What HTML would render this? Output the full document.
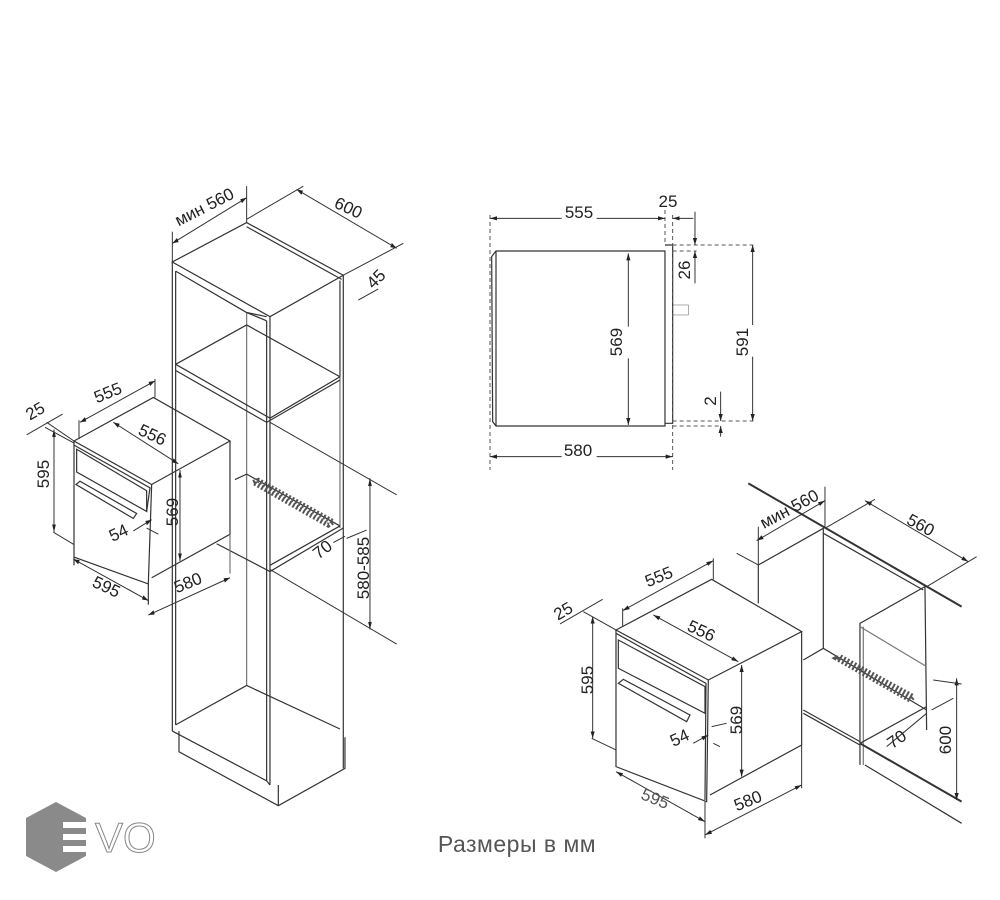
<!DOCTYPE html>
<html><head><meta charset="utf-8"><style>
html,body{margin:0;padding:0;background:#fff;}
svg{display:block;}
text{font-family:"Liberation Sans","DejaVu Sans",sans-serif;fill:#222;}
.l line,.l polyline,.l polygon,.l path{vector-effect:non-scaling-stroke;}
</style></head><body>
<svg width="1000" height="900" viewBox="0 0 1000 900" xmlns="http://www.w3.org/2000/svg">
<defs>
<marker id="a" viewBox="0 0 10 10" refX="10" refY="5" markerWidth="7" markerHeight="7" orient="auto-start-reverse"><path d="M0,2 L10,5 L0,8z" fill="#222"/></marker>
</defs>

<g class="l" transform="translate(0,173.7) scale(0.3333,0.4144)" stroke="#333" stroke-width="1.2" fill="none">
  <polygon points="517,213 740,118 1030,245 810,345"/>
  <line x1="740" y1="128" x2="1025" y2="255"/>
  <line x1="517" y1="213" x2="517" y2="1345"/>
  <line x1="527" y1="235" x2="527" y2="1330"/>
  <line x1="810" y1="345" x2="810" y2="1475"/>
  <line x1="800" y1="355" x2="800" y2="1465"/>
  <line x1="1030" y1="245" x2="1030" y2="1435"/>
  <line x1="1020" y1="258" x2="1020" y2="490"/>
  <line x1="1020" y1="490" x2="1020" y2="855" stroke="#777"/>
  <line x1="740" y1="335" x2="740" y2="1235" stroke="#777"/>
  <polyline points="527,235 740,335 800,355"/>
  <line x1="740" y1="335" x2="800" y2="345"/>
  <polyline points="527,460 810,590 1020,490"/>
  <polyline points="527,475 800,600 1020,498"/>
  <line x1="740" y1="365" x2="527" y2="460"/>
  <line x1="740" y1="365" x2="1020" y2="490"/>
  <polyline points="650,893 810,960 1030,855"/>
  <polyline points="810,945 1020,850"/>
  <line x1="705" y1="738" x2="740" y2="725"/>
  <line x1="740" y1="725" x2="1020" y2="850"/>
  <polygon points="760,745 775,740 1000,840 985,848" stroke="#555" stroke-dasharray="2,2" stroke-width="5"/>
  <polyline points="527,1330 740,1235 1020,1340"/>
  <polyline points="517,1345 800,1465 810,1475"/>
  <polyline points="537,1345 537,1395 835,1525 1035,1435 1035,1360"/>
  <line x1="835" y1="1475" x2="835" y2="1525"/>
  <polygon points="222,645 460,540 690,645 455,750"/>
  <polyline points="222,645 222,925 445,990 455,750"/>
  <polyline points="690,645 690,870 455,975"/>
  <polyline points="222,655 450,758 440,815"/>
  <polygon points="230,665 440,765 440,815 230,720"/>
  <polygon points="228,750 240,742 410,820 400,832"/>
  <line x1="690" y1="870" x2="690" y2="965" stroke="#777"/>
  <line x1="445" y1="990" x2="445" y2="1040"/>
  <line x1="222" y1="925" x2="222" y2="945"/>
  <line x1="517" y1="213" x2="517" y2="140" stroke-width="1"/>
  <line x1="740" y1="118" x2="740" y2="30" stroke-width="1"/>
  <line x1="517" y1="168" x2="740" y2="58" stroke-width="1" marker-start="url(#a)" marker-end="url(#a)"/>
  <line x1="740" y1="110" x2="910" y2="30" stroke-width="1"/>
  <line x1="1030" y1="245" x2="1210" y2="168" stroke-width="1"/>
  <line x1="890" y1="38" x2="1190" y2="180" stroke-width="1" marker-start="url(#a)" marker-end="url(#a)"/>
  <line x1="1075" y1="305" x2="1135" y2="278" stroke-width="1"/>
  <line x1="80" y1="630" x2="188" y2="580" stroke-width="1"/>
  <line x1="140" y1="600" x2="222" y2="645" stroke-width="1"/>
  <line x1="237" y1="640" x2="237" y2="595" stroke-width="1"/>
  <line x1="465" y1="540" x2="465" y2="495" stroke-width="1"/>
  <line x1="240" y1="600" x2="465" y2="500" stroke-width="1" marker-start="url(#a)" marker-end="url(#a)"/>
  <line x1="340" y1="600" x2="535" y2="700" stroke-width="1" marker-start="url(#a)" marker-end="url(#a)"/>
  <line x1="162" y1="617" x2="162" y2="865" stroke-width="1" marker-start="url(#a)" marker-end="url(#a)"/>
  <line x1="135" y1="612" x2="222" y2="650" stroke-width="1"/>
  <line x1="160" y1="865" x2="222" y2="895" stroke-width="1"/>
  <line x1="540" y1="715" x2="540" y2="935" stroke-width="1" marker-start="url(#a)" marker-end="url(#a)"/>
  <line x1="220" y1="930" x2="445" y2="1030" stroke-width="1" marker-start="url(#a)" marker-end="url(#a)"/>
  <line x1="445" y1="1065" x2="690" y2="975" stroke-width="1" marker-start="url(#a)" marker-end="url(#a)"/>
  <line x1="400" y1="862" x2="455" y2="835" stroke-width="1" marker-end="url(#a)"/>
  <line x1="475" y1="870" x2="440" y2="855" stroke-width="1"/>
  <line x1="810" y1="600" x2="1190" y2="775" stroke-width="1"/>
  <line x1="810" y1="955" x2="1190" y2="1135" stroke-width="1"/>
  <line x1="1110" y1="735" x2="1110" y2="1100" stroke-width="1" marker-start="url(#a)" marker-end="url(#a)"/>
  <line x1="1000" y1="890" x2="1035" y2="875" stroke-width="1"/>
  <line x1="1040" y1="880" x2="1100" y2="860" stroke-width="1"/>
</g>

<g class="l" transform="translate(480,190) scale(0.3333)" stroke="#333" stroke-width="1.2" fill="none">
  <path d="M48,183 L555,183 L555,708 L48,708 L38,695 L35,200 Z"/>
  <line x1="48" y1="183" x2="48" y2="708"/>
  <polyline points="555,165 578,165 578,700 555,700"/>
  <rect x="578" y="345" width="47" height="30"/>
  <g stroke-dasharray="4,3" stroke="#555" stroke-width="1">
    <line x1="578" y1="165" x2="820" y2="165"/>
    <line x1="578" y1="183" x2="650" y2="183"/>
    <line x1="578" y1="693" x2="820" y2="693"/>
    <line x1="578" y1="708" x2="725" y2="708"/>
    <line x1="30" y1="75" x2="30" y2="840"/>
    <line x1="578" y1="75" x2="578" y2="840"/>
    <line x1="555" y1="60" x2="555" y2="165"/>
  </g>
  <line x1="30" y1="85" x2="245" y2="85" marker-start="url(#a)" stroke-width="1"/>
  <line x1="350" y1="85" x2="555" y2="85" marker-end="url(#a)" stroke-width="1"/>
  <line x1="578" y1="85" x2="640" y2="85" marker-start="url(#a)" stroke-width="1"/>
  <line x1="645" y1="65" x2="645" y2="165" marker-end="url(#a)" stroke-width="1"/>
  <line x1="645" y1="280" x2="645" y2="183" marker-end="url(#a)" stroke-width="1"/>
  <line x1="445" y1="410" x2="445" y2="190" marker-end="url(#a)" stroke-width="1"/>
  <line x1="445" y1="505" x2="445" y2="705" marker-end="url(#a)" stroke-width="1"/>
  <line x1="818" y1="405" x2="818" y2="165" marker-end="url(#a)" stroke-width="1"/>
  <line x1="818" y1="500" x2="818" y2="693" marker-end="url(#a)" stroke-width="1"/>
  <line x1="722" y1="605" x2="722" y2="693" marker-end="url(#a)" stroke-width="1"/>
  <line x1="722" y1="740" x2="722" y2="708" marker-end="url(#a)" stroke-width="1"/>
  <line x1="30" y1="800" x2="245" y2="800" marker-start="url(#a)" stroke-width="1"/>
  <line x1="350" y1="800" x2="578" y2="800" marker-end="url(#a)" stroke-width="1"/>
</g>

<g class="l" transform="translate(540,480) scale(0.3333)" stroke="#333" stroke-width="1.2" fill="none">
  <line x1="625" y1="10" x2="1265" y2="380" stroke-width="2"/>
  <line x1="850" y1="160" x2="1150" y2="330"/>
  <polyline points="655,370 655,255 850,145 850,505"/>
  <polyline points="960,855 960,430 1155,320 1160,750"/>
  <line x1="970" y1="440" x2="970" y2="855" stroke="#777"/>
  <line x1="960" y1="440" x2="1160" y2="560" stroke="#777"/>
  <polyline points="790,540 850,505 1160,690"/>
  <line x1="790" y1="700" x2="960" y2="795"/>
  <line x1="790" y1="690" x2="960" y2="785"/>
  <line x1="960" y1="790" x2="1160" y2="680"/>
  <line x1="960" y1="790" x2="1265" y2="965" stroke-width="2"/>
  <line x1="975" y1="855" x2="1265" y2="1030"/>
  <line x1="590" y1="220" x2="655" y2="255" stroke-width="1"/>
  <polygon points="890,535 900,530 1120,650 1110,660" stroke="#555" stroke-dasharray="2,2" stroke-width="5"/>
  <polygon points="228,450 515,298 785,455 505,600"/>
  <polyline points="228,450 228,860 500,965 505,600"/>
  <polyline points="785,455 785,795 510,945"/>
  <polyline points="228,460 498,610 495,960"/>
  <polygon points="235,480 495,620 495,700 235,565"/>
  <polygon points="235,610 250,598 450,705 440,725"/>
  <line x1="655" y1="140" x2="655" y2="255" stroke-width="1"/>
  <line x1="855" y1="20" x2="855" y2="145" stroke-width="1"/>
  <line x1="650" y1="182" x2="855" y2="62" stroke-width="1" marker-start="url(#a)" marker-end="url(#a)"/>
  <line x1="855" y1="145" x2="1005" y2="58" stroke-width="1"/>
  <line x1="1160" y1="320" x2="1310" y2="230" stroke-width="1"/>
  <line x1="975" y1="62" x2="1285" y2="245" stroke-width="1" marker-start="url(#a)" marker-end="url(#a)"/>
  <line x1="248" y1="440" x2="248" y2="385" stroke-width="1"/>
  <line x1="520" y1="298" x2="520" y2="235" stroke-width="1"/>
  <line x1="248" y1="392" x2="520" y2="242" stroke-width="1" marker-start="url(#a)" marker-end="url(#a)"/>
  <line x1="60" y1="432" x2="188" y2="358" stroke-width="1"/>
  <line x1="130" y1="395" x2="228" y2="450" stroke-width="1"/>
  <line x1="340" y1="405" x2="595" y2="545" stroke-width="1" marker-start="url(#a)" marker-end="url(#a)"/>
  <line x1="158" y1="410" x2="158" y2="775" stroke-width="1" marker-start="url(#a)" marker-end="url(#a)"/>
  <line x1="155" y1="775" x2="228" y2="810" stroke-width="1"/>
  <line x1="605" y1="555" x2="605" y2="890" stroke-width="1" marker-start="url(#a)" marker-end="url(#a)"/>
  <line x1="228" y1="875" x2="495" y2="1025" stroke-width="1" marker-start="url(#a)" marker-end="url(#a)"/>
  <line x1="495" y1="965" x2="495" y2="1075" stroke-width="1"/>
  <line x1="785" y1="795" x2="785" y2="925" stroke-width="1"/>
  <line x1="495" y1="1065" x2="785" y2="915" stroke-width="1" marker-start="url(#a)" marker-end="url(#a)"/>
  <line x1="460" y1="790" x2="505" y2="765" stroke-width="1" marker-end="url(#a)"/>
  <line x1="560" y1="730" x2="515" y2="740" stroke-width="1"/>
  <line x1="520" y1="790" x2="540" y2="800" stroke-width="1"/>
  <line x1="1250" y1="595" x2="1250" y2="960" stroke-width="1" marker-start="url(#a)" marker-end="url(#a)"/>
  <line x1="1180" y1="600" x2="1265" y2="612" stroke-width="1"/>
  <line x1="1040" y1="800" x2="1160" y2="700" stroke-width="1"/>
  <line x1="1175" y1="690" x2="1240" y2="655" stroke-width="1"/>
</g>

<g font-size="17">
  <text transform="translate(207,212) rotate(-27)" text-anchor="middle">мин 560</text>
  <text transform="translate(346,213) rotate(25)" text-anchor="middle">600</text>
  <text transform="translate(380,283) rotate(-45)" text-anchor="middle">45</text>
  <text transform="translate(110,398) rotate(-22)" text-anchor="middle">555</text>
  <text transform="translate(38,416) rotate(-30)" text-anchor="middle">25</text>
  <text transform="translate(150,440) rotate(25)" text-anchor="middle">556</text>
  <text transform="translate(49,474) rotate(-90)" text-anchor="middle">595</text>
  <text transform="translate(178,512) rotate(-90)" text-anchor="middle">569</text>
  <text transform="translate(121,538) rotate(-25)" text-anchor="middle">54</text>
  <text transform="translate(104,592) rotate(25)" text-anchor="middle">595</text>
  <text transform="translate(190,588) rotate(-22)" text-anchor="middle">580</text>
  <text transform="translate(369,568) rotate(-90)" text-anchor="middle">580-585</text>
  <text transform="translate(326,554) rotate(-38)" text-anchor="middle">70</text>

  <text x="579" y="218" text-anchor="middle">555</text>
  <text x="668" y="207" text-anchor="middle">25</text>
  <text transform="translate(690,270) rotate(-90)" text-anchor="middle">26</text>
  <text transform="translate(622,342) rotate(-90)" text-anchor="middle">569</text>
  <text transform="translate(748,342) rotate(-90)" text-anchor="middle">591</text>
  <text transform="translate(716,401) rotate(-90)" text-anchor="middle">2</text>
  <text x="578" y="456" text-anchor="middle">580</text>

  <text transform="translate(792,514) rotate(-28)" text-anchor="middle">мин 560</text>
  <text transform="translate(918,530) rotate(28)" text-anchor="middle">560</text>
  <text transform="translate(661,582) rotate(-22)" text-anchor="middle">555</text>
  <text transform="translate(566,616) rotate(-30)" text-anchor="middle">25</text>
  <text transform="translate(699,636) rotate(25)" text-anchor="middle">556</text>
  <text transform="translate(593,680) rotate(-90)" text-anchor="middle">595</text>
  <text transform="translate(742,720) rotate(-90)" text-anchor="middle">569</text>
  <text transform="translate(682,743) rotate(-25)" text-anchor="middle">54</text>
  <text transform="translate(900,744) rotate(-35)" text-anchor="middle">70</text>
  <text transform="translate(951,740) rotate(-90)" text-anchor="middle">600</text>
  <text transform="translate(653,804) rotate(22)" text-anchor="middle" style="fill:#555">595</text>
  <text transform="translate(750,806) rotate(-22)" text-anchor="middle">580</text>
</g>

<text x="517" y="852" font-size="23" letter-spacing="0.5" text-anchor="middle" style="fill:#555">Размеры в мм</text>

<polygon points="56,802 86,818 86,856 56,872 26,856 26,818" fill="#8a8a8a"/>
<rect x="63" y="822" width="30" height="6" fill="#fff"/>
<rect x="63" y="834" width="30" height="6" fill="#fff"/>
<rect x="63" y="846" width="30" height="6" fill="#fff"/>
<text x="95" y="852" font-size="42" style="fill:#fff;stroke:#888;stroke-width:1">VO</text>
</svg>
</body></html>
